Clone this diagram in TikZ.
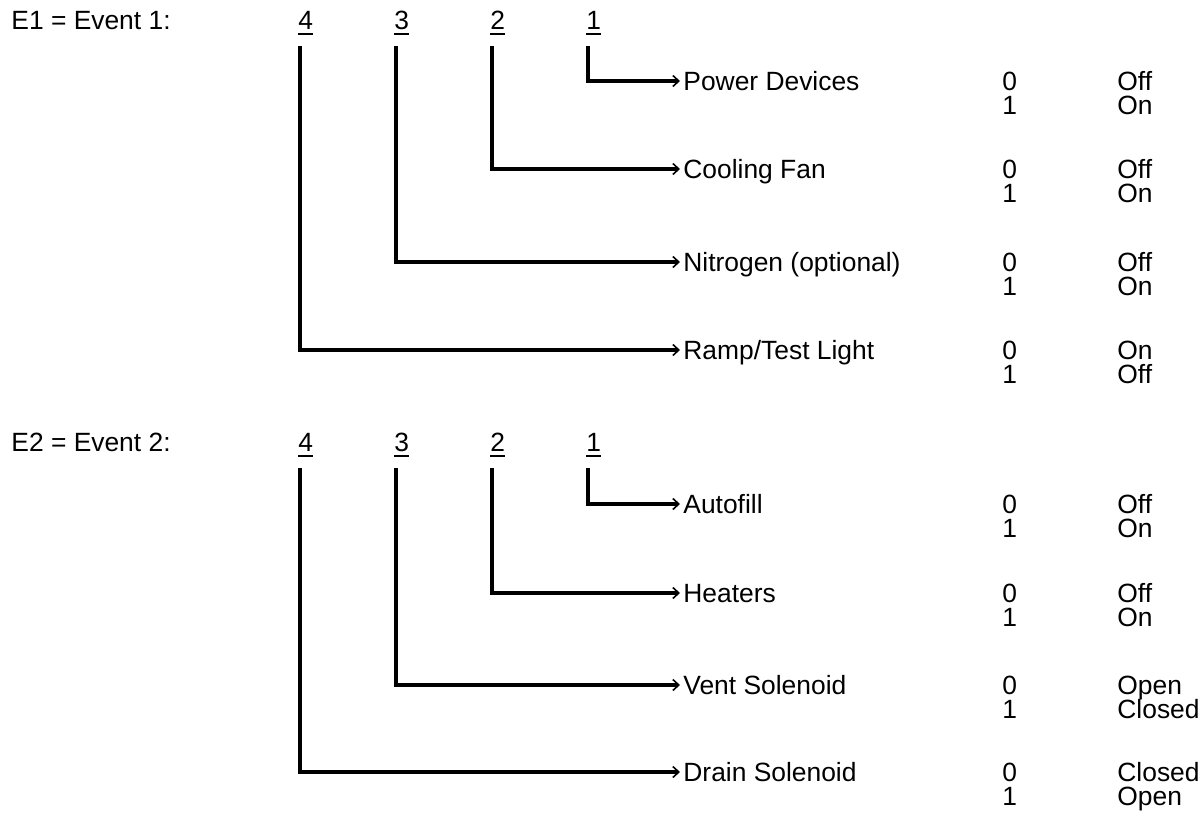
\documentclass[tikz,border=0pt]{standalone}
\usepackage{fontspec}
\setmainfont{Liberation Sans}
\usepackage{tikz}
\usetikzlibrary{arrows.meta, positioning}

% underlined bit number
\newcommand{\bitnum}[1]{\setbox0\hbox{#1}\rlap{\copy0}\rule[-3.2pt]{\wd0}{1.4pt}}

\tikzset{
  % plain text
  txt/.style={inner sep=0pt, font=\fontsize{13.2pt}{15pt}\selectfont},
  % event titles and bit numbers
  bitlabel/.style={txt, anchor=base west},
  % signal names at the arrow heads
  signame/.style={txt, anchor=west, inner xsep=1.5pt, text height=9.45pt, text depth=0pt},
  % value and state columns
  state/.style={txt, anchor=base west},
  % bit connectors
  bitline/.style={line width=2pt, -{Straight Barb[length=3pt, width=5.5pt, line width=0.8pt]}},
}

\begin{document}
\begin{tikzpicture}[x=0.5pt, y=-0.5pt]
  \useasboundingbox (0,0) rectangle (1204,819);

  % Event 1
  \node[bitlabel] (ev1) at (11,29) {E1 = Event 1:};
  \node[bitlabel] (e1b4) at (298,29) {\bitnum{4}};
  \node[bitlabel] (e1b3) at (394,29) {\bitnum{3}};
  \node[bitlabel] (e1b2) at (490,29) {\bitnum{2}};
  \node[bitlabel] (e1b1) at (586,29) {\bitnum{1}};

  \node[signame] (pwr) at (680,81) {Power Devices};
  \node[signame] (fan) at (680,169) {Cooling Fan};
  \node[signame] (nit) at (680,262) {Nitrogen (optional)};
  \node[signame] (ramp) at (680,350) {Ramp/Test Light};

  \node[state] (pwr0) at (1002,90) {0};
  \node[state] (pwr1) at (1002,114) {1};
  \node[state] (pwrA) at (1117,90) {Off};
  \node[state] (pwrB) at (1117,114) {On};
  \node[state] (fan0) at (1002,178) {0};
  \node[state] (fan1) at (1002,202) {1};
  \node[state] (fanA) at (1117,178) {Off};
  \node[state] (fanB) at (1117,202) {On};
  \node[state] (nit0) at (1002,271) {0};
  \node[state] (nit1) at (1002,295) {1};
  \node[state] (nitA) at (1117,271) {Off};
  \node[state] (nitB) at (1117,295) {On};
  \node[state] (ramp0) at (1002,359) {0};
  \node[state] (ramp1) at (1002,383) {1};
  \node[state] (rampA) at (1117,359) {On};
  \node[state] (rampB) at (1117,383) {Off};

  \draw[bitline] ([xshift=1pt,yshift=-5pt]e1b1.south west) |- (pwr.west);
  \draw[bitline] ([xshift=1pt,yshift=-5pt]e1b2.south west) |- (fan.west);
  \draw[bitline] ([xshift=1pt,yshift=-5pt]e1b3.south west) |- (nit.west);
  \draw[bitline] ([xshift=1pt,yshift=-5pt]e1b4.south west) |- (ramp.west);

  % Event 2
  \node[bitlabel] (ev2) at (11,451) {E2 = Event 2:};
  \node[bitlabel] (e2b4) at (298,451) {\bitnum{4}};
  \node[bitlabel] (e2b3) at (394,451) {\bitnum{3}};
  \node[bitlabel] (e2b2) at (490,451) {\bitnum{2}};
  \node[bitlabel] (e2b1) at (586,451) {\bitnum{1}};

  \node[signame] (auto) at (680,504) {Autofill};
  \node[signame] (heat) at (680,593) {Heaters};
  \node[signame] (vent) at (680,685) {Vent Solenoid};
  \node[signame] (drain) at (680,772) {Drain Solenoid};

  \node[state] (auto0) at (1002,513) {0};
  \node[state] (auto1) at (1002,537) {1};
  \node[state] (autoA) at (1117,513) {Off};
  \node[state] (autoB) at (1117,537) {On};
  \node[state] (heat0) at (1002,602) {0};
  \node[state] (heat1) at (1002,626) {1};
  \node[state] (heatA) at (1117,602) {Off};
  \node[state] (heatB) at (1117,626) {On};
  \node[state] (vent0) at (1002,694) {0};
  \node[state] (vent1) at (1002,718) {1};
  \node[state] (ventA) at (1117,694) {Open};
  \node[state] (ventB) at (1117,718) {Closed};
  \node[state] (drain0) at (1002,781) {0};
  \node[state] (drain1) at (1002,805) {1};
  \node[state] (drainA) at (1117,781) {Closed};
  \node[state] (drainB) at (1117,805) {Open};

  \draw[bitline] ([xshift=1pt,yshift=-5pt]e2b1.south west) |- (auto.west);
  \draw[bitline] ([xshift=1pt,yshift=-5pt]e2b2.south west) |- (heat.west);
  \draw[bitline] ([xshift=1pt,yshift=-5pt]e2b3.south west) |- (vent.west);
  \draw[bitline] ([xshift=1pt,yshift=-5pt]e2b4.south west) |- (drain.west);

\end{tikzpicture}
\end{document}
